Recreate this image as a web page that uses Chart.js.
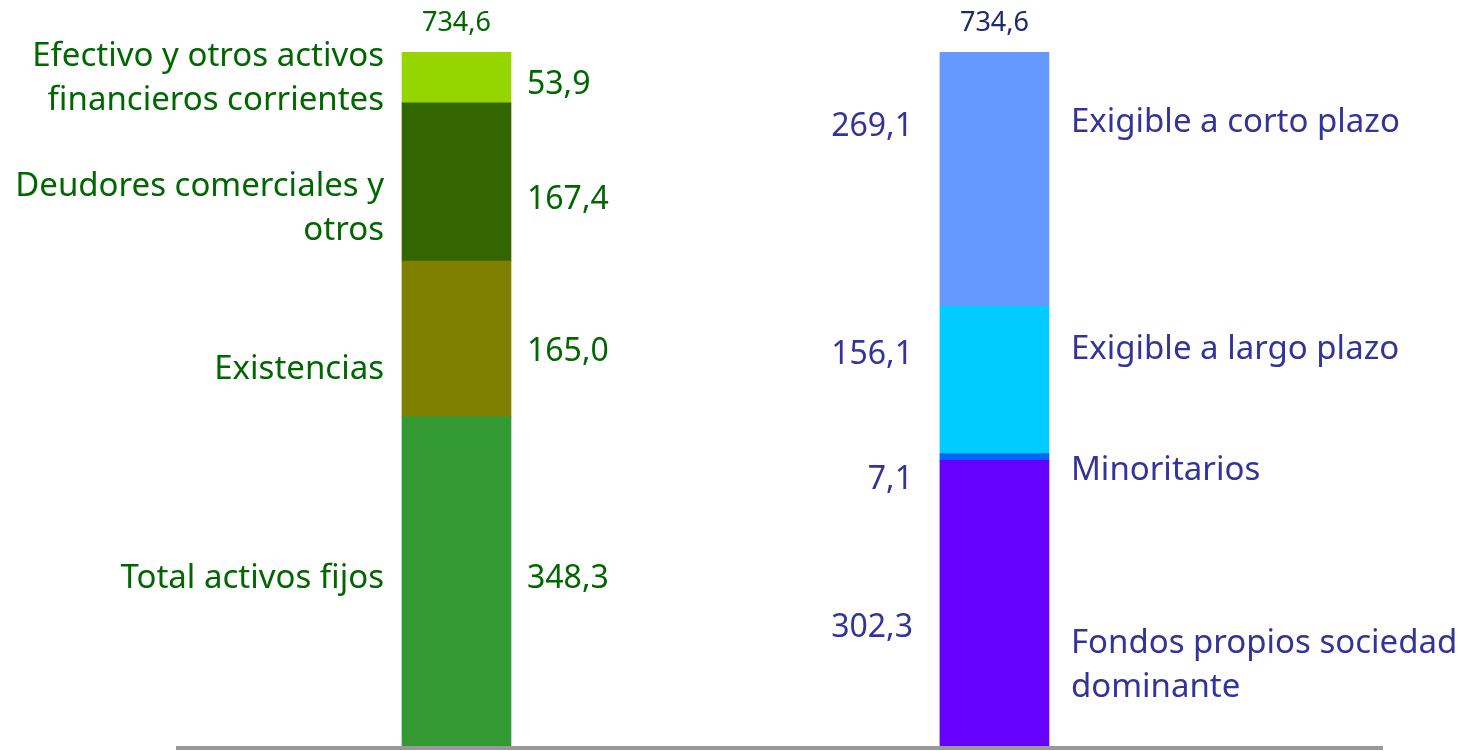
<!DOCTYPE html>
<html lang="es">
<head>
    <meta charset="UTF-8">
    <title>Balance: activo y pasivo</title>
    <script src="https://cdn.jsdelivr.net/npm/chart.js"></script>
    <style>
        body { margin: 0; background: #fff; }
        #wrap { width: 1467px; height: 751px; position: relative; }
    </style>
</head>
<body>
    <div id="wrap"><canvas id="balanceChart"></canvas></div>

    <script>
        // Data (bottom segment first)
        const activoLabels = ['Total activos fijos', 'Existencias', 'Deudores comerciales y\notros', 'Efectivo y otros activos\nfinancieros corrientes'];
        const activoValues = [348.3, 165.0, 167.4, 53.9];
        const pasivoLabels = ['Fondos propios sociedad\ndominante', 'Minoritarios', 'Exigible a largo plazo', 'Exigible a corto plazo'];
        const pasivoValues = [302.3, 7.1, 156.1, 269.1];

        const activoColors = ['#339933', '#808000', '#336600', '#96d600'];
        const pasivoColors = ['#6600ff', '#0066ff', '#00ccff', '#6699ff'];

        // small vertical nudges of the text, as placed in the original
        const activoNameShift = [-3, 31, 27, 1];
        const activoValShift = [-3, 13, 18, 7];
        const pasivoNameShift = [62, 14, -30, -57];
        const pasivoValShift = [25, 23, -25, -52];

        const fmt = v => v.toFixed(1).replace('.', ',');
        const sum = arr => arr.reduce((a, b) => a + b, 0);
        const totalActivo = sum(activoValues);
        const totalPasivo = sum(pasivoValues);

        const FONT = '"Noto Sans", sans-serif';
        const greenText = '#006600';
        const blueText = '#333399';

        const datasets = activoValues.map((v, i) => ({
            data: [{ x: 1, y: v }, { x: 2, y: pasivoValues[i] }],
            backgroundColor: [activoColors[i], pasivoColors[i]],
            borderWidth: 0,
            barThickness: 109
        }));

        const labelPlugin = {
            id: 'segmentLabels',
            beforeDatasetsDraw(chart) {
                const { ctx, chartArea } = chart;
                ctx.save();
                ctx.fillStyle = '#999999';
                ctx.fillRect(chartArea.left, chartArea.bottom, chartArea.right - chartArea.left, 4);
                ctx.restore();
            },
            afterDatasetsDraw(chart) {
                const { ctx } = chart;
                ctx.save();
                ctx.textBaseline = 'middle';
                const lineH = 44;

                const drawLines = (text, x, y) => {
                    const lines = text.split('\n');
                    const y0 = y - (lines.length - 1) * lineH / 2;
                    lines.forEach((l, k) => ctx.fillText(l, x, y0 + k * lineH));
                };

                chart.data.datasets.forEach((ds, i) => {
                    const meta = chart.getDatasetMeta(i);
                    const left = meta.data[0];
                    const right = meta.data[1];

                    // activo
                    let cy = (left.y + left.base) / 2;
                    ctx.fillStyle = greenText;
                    ctx.font = '33px ' + FONT;
                    ctx.textAlign = 'right';
                    drawLines(activoLabels[i], left.x - left.width / 2 - 18, cy + activoNameShift[i]);
                    ctx.font = '32px ' + FONT;
                    ctx.textAlign = 'left';
                    ctx.fillText(fmt(activoValues[i]), left.x + left.width / 2 + 16, cy + activoValShift[i]);

                    // pasivo
                    cy = (right.y + right.base) / 2;
                    ctx.fillStyle = blueText;
                    ctx.textAlign = 'right';
                    ctx.fillText(fmt(pasivoValues[i]), right.x - right.width / 2 - 27, cy + pasivoValShift[i]);
                    ctx.font = '33px ' + FONT;
                    ctx.textAlign = 'left';
                    drawLines(pasivoLabels[i], right.x + right.width / 2 + 22, cy + pasivoNameShift[i]);
                });

                // totals above bars
                const lastMeta = chart.getDatasetMeta(chart.data.datasets.length - 1);
                ctx.font = '27px ' + FONT;
                ctx.textAlign = 'center';
                ctx.fillStyle = greenText;
                ctx.fillText(fmt(totalActivo), lastMeta.data[0].x, lastMeta.data[0].y - 29);
                ctx.fillStyle = '#1a2a6c';
                ctx.fillText(fmt(totalPasivo), lastMeta.data[1].x, lastMeta.data[1].y - 29);
                ctx.restore();
            }
        };

        new Chart(document.getElementById('balanceChart'), {
            type: 'bar',
            data: { datasets },
            options: {
                responsive: true,
                maintainAspectRatio: false,
                animation: false,
                layout: { padding: { left: 176, right: 84, top: 52, bottom: 5 } },
                plugins: { legend: { display: false }, tooltip: { enabled: false } },
                scales: {
                    x: { type: 'linear', min: 0.4786, max: 2.7223, offset: false, display: false, stacked: true },
                    y: { min: 0, max: Math.max(totalActivo, totalPasivo), display: false, stacked: true }
                }
            },
            plugins: [labelPlugin]
        });
    </script>
</body>
</html>
